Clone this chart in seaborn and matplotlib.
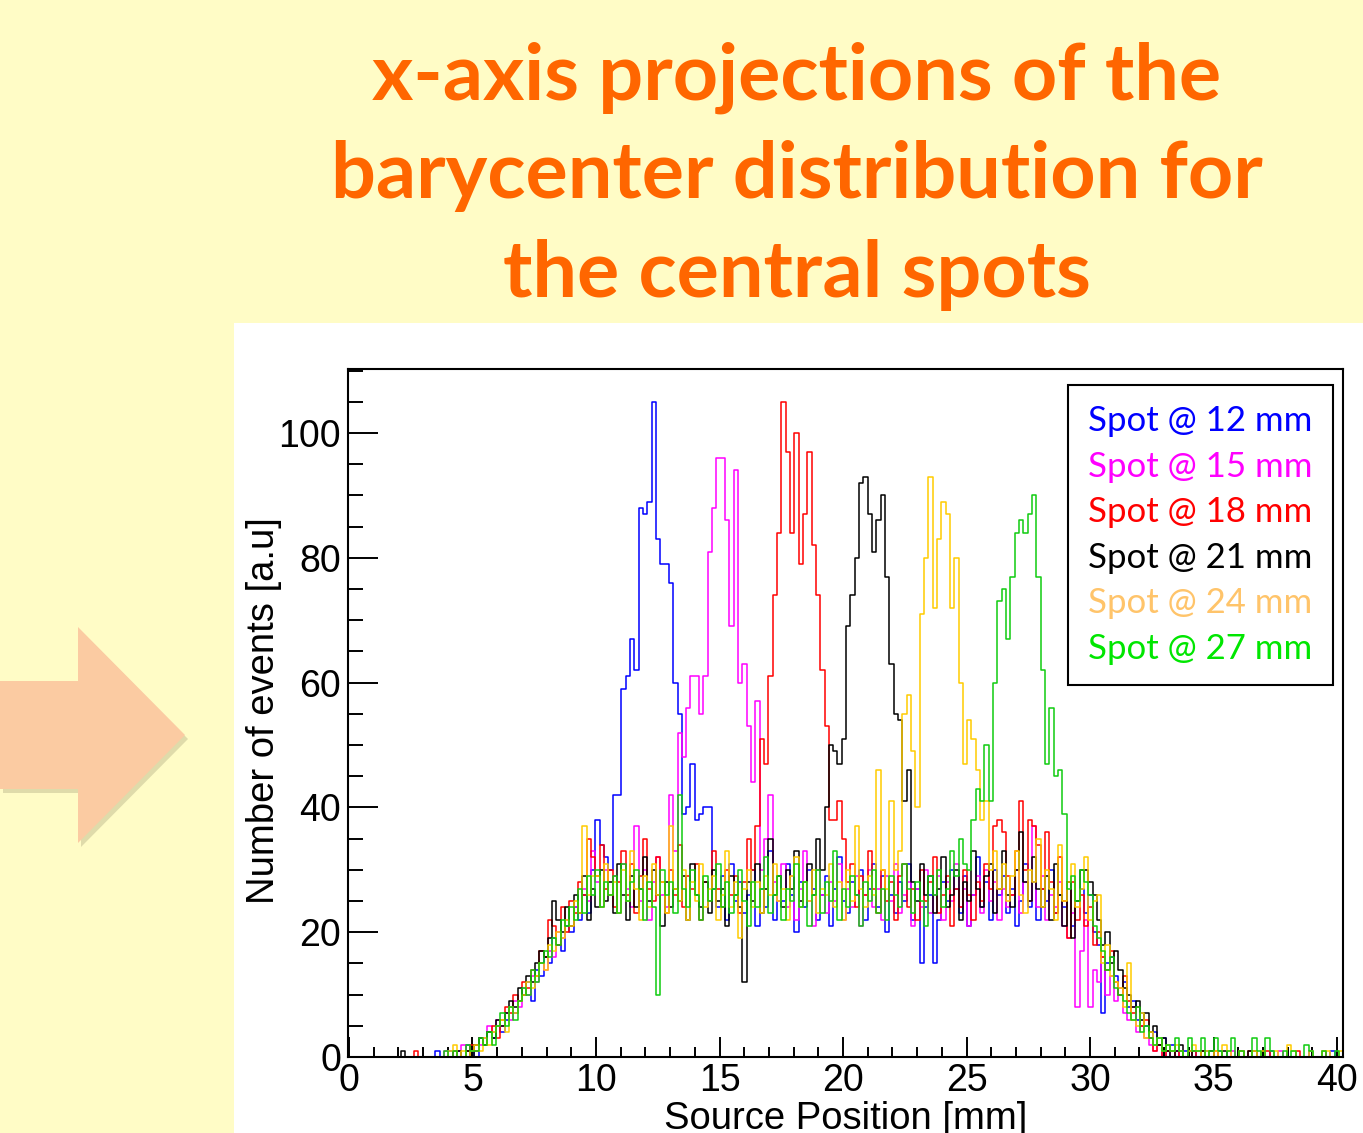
import numpy as np
import pandas as pd
import matplotlib.pyplot as plt
import seaborn as sns
from matplotlib.patches import Polygon, Rectangle
from matplotlib.lines import Line2D
from matplotlib.ticker import MultipleLocator

# Estilo base
sns.set_style('white')
plt.rcParams['font.family'] = ['Liberation Sans', 'DejaVu Sans']
plt.rcParams['text.color'] = 'black'
plt.rcParams['axes.labelcolor'] = 'black'
plt.rcParams['xtick.color'] = 'black'
plt.rcParams['ytick.color'] = 'black'

# Histogram binning (mm)
bin_width = 0.175
n_bins = 230

spot_labels = ['Spot @ 12 mm', 'Spot @ 15 mm', 'Spot @ 18 mm',
               'Spot @ 21 mm', 'Spot @ 24 mm', 'Spot @ 27 mm']
line_colors = ['#0000FF', '#FF00FF', '#FF0000', '#000000', '#FFCC00', '#10CC10']
text_colors = ['#0000FF', '#FF00FF', '#FF0000', '#000000', '#FFC46A', '#00E600']

# counts per bin
spot_12 = [
    0, 0, 0, 0, 0, 0, 0, 0, 0, 0,
    0, 0, 0, 0, 0, 0, 0, 0, 0, 0,
    1, 0, 0, 1, 0, 1, 0, 2, 1, 0,
    3, 2, 4, 3, 5, 4, 6, 8, 7, 9,
    10, 12, 9, 14, 13, 16, 15, 19, 18, 17,
    21, 20, 24, 22, 26, 23, 30, 38, 34, 32,
    30, 42, 42, 59, 61, 67, 62, 88, 87, 89,
    105, 83, 79, 79, 76, 60, 55, 39, 40, 47,
    38, 39, 40, 40, 27, 24, 29, 22, 31, 25,
    28, 23, 26, 30, 21, 27, 24, 33, 22, 29,
    25, 31, 26, 20, 28, 24, 30, 27, 22, 26,
    29, 21, 27, 32, 25, 23, 28, 26, 30, 22,
    27, 31, 24, 29, 20, 26, 23, 28, 25, 31,
    22, 27, 15, 24, 26, 15, 22, 28, 25, 30,
    27, 23, 29, 21, 26, 32, 24, 28, 22, 30,
    26, 29, 23, 27, 21, 25, 31, 24, 28, 22,
    27, 25, 30, 23, 26, 24, 28, 21, 25, 27,
    23, 26, 20, 18, 7, 15, 16, 13, 10, 12,
    8, 9, 6, 7, 5, 3, 4, 2, 3, 1,
    2, 1, 0, 1, 0, 1, 0, 0, 1, 0,
    0, 1, 0, 0, 0, 0, 1, 0, 0, 0,
    0, 0, 0, 1, 0, 0, 0, 0, 0, 0,
    0, 0, 1, 0, 0, 0, 0, 1, 0, 0,
]
spot_15 = [
    0, 0, 0, 0, 0, 0, 0, 0, 0, 0,
    0, 0, 0, 0, 0, 0, 0, 0, 0, 0,
    0, 0, 1, 0, 0, 1, 2, 0, 1, 2,
    2, 3, 5, 4, 6, 5, 7, 6, 9, 8,
    11, 10, 13, 12, 15, 14, 17, 16, 20, 19,
    22, 21, 24, 23, 27, 25, 33, 28, 24, 30,
    26, 29, 23, 31, 27, 24, 37, 25, 30, 22,
    28, 32, 26, 24, 42, 33, 52, 48, 56, 61,
    61, 55, 61, 81, 88, 96, 96, 86, 69, 94,
    60, 63, 53, 44, 57, 30, 35, 42, 28, 25,
    31, 24, 29, 22, 27, 33, 25, 21, 30, 26,
    23, 28, 25, 31, 22, 27, 24, 29, 21, 26,
    30, 24, 27, 22, 29, 25, 31, 23, 26, 28,
    21, 27, 24, 30, 23, 26, 29, 22, 28, 25,
    31, 24, 27, 21, 26, 29, 23, 30, 25, 28,
    22, 27, 24, 26, 30, 23, 28, 25, 37, 24,
    29, 22, 26, 24, 28, 21, 19, 23, 8, 17,
    22, 8, 14, 12, 16, 10, 13, 9, 11, 7,
    6, 8, 4, 5, 3, 2, 1, 2, 0, 1,
    0, 1, 0, 0, 1, 0, 0, 0, 0, 1,
    0, 0, 0, 0, 1, 0, 0, 0, 0, 0,
    0, 0, 0, 0, 0, 1, 0, 0, 0, 0,
    0, 0, 0, 0, 0, 0, 0, 0, 0, 0,
]
spot_18 = [
    0, 0, 0, 0, 0, 0, 0, 0, 0, 0,
    0, 0, 0, 0, 0, 1, 0, 0, 0, 0,
    0, 0, 0, 0, 1, 0, 0, 1, 2, 1,
    3, 2, 4, 5, 3, 6, 8, 7, 10, 9,
    12, 11, 14, 13, 17, 16, 22, 21, 18, 24,
    20, 25, 23, 28, 26, 35, 32, 29, 34, 27,
    30, 24, 28, 33, 26, 31, 23, 29, 35, 27,
    25, 32, 28, 23, 30, 26, 34, 24, 29, 27,
    31, 22, 28, 25, 33, 27, 24, 30, 26, 29,
    23, 28, 35, 30, 37, 51, 47, 61, 74, 84,
    105, 97, 84, 100, 79, 87, 97, 82, 74, 62,
    53, 38, 38, 41, 35, 28, 31, 24, 29, 26,
    33, 27, 23, 30, 25, 28, 22, 29, 31, 24,
    27, 22, 30, 25, 28, 32, 23, 26, 29, 21,
    27, 24, 30, 26, 22, 28, 25, 31, 27, 37,
    38, 36, 29, 26, 33, 41, 30, 38, 37, 34,
    27, 36, 28, 23, 32, 25, 19, 28, 22, 26,
    21, 24, 18, 20, 16, 14, 17, 12, 10, 13,
    9, 7, 8, 5, 6, 3, 1, 2, 0, 1,
    1, 0, 1, 0, 0, 1, 0, 1, 0, 0,
    1, 0, 0, 0, 0, 0, 1, 0, 1, 0,
    0, 0, 1, 0, 0, 0, 0, 0, 0, 1,
    0, 0, 0, 0, 0, 1, 0, 0, 0, 0,
]
spot_21 = [
    0, 0, 0, 0, 0, 0, 0, 0, 0, 0,
    0, 0, 1, 0, 0, 0, 0, 0, 0, 0,
    0, 0, 0, 0, 0, 1, 0, 1, 0, 2,
    3, 2, 4, 3, 6, 5, 7, 9, 8, 11,
    10, 13, 12, 15, 17, 16, 19, 25, 22, 20,
    24, 21, 26, 23, 29, 22, 27, 24, 30, 25,
    28, 23, 31, 26, 22, 29, 24, 27, 32, 25,
    30, 26, 21, 28, 24, 27, 25, 29, 22, 31,
    26, 24, 28, 23, 30, 25, 27, 21, 29, 26,
    24, 12, 28, 25, 31, 23, 27, 35, 26, 29,
    24, 30, 27, 33, 25, 28, 31, 26, 35, 30,
    40, 50, 49, 47, 51, 69, 74, 80, 92, 93,
    87, 81, 86, 90, 77, 63, 55, 54, 41, 46,
    28, 25, 31, 26, 29, 23, 27, 32, 24, 26,
    30, 22, 28, 25, 33, 27, 24, 29, 31, 23,
    27, 33, 26, 24, 30, 36, 28, 25, 32, 27,
    24, 29, 22, 31, 26, 21, 28, 19, 25, 30,
    30, 28, 26, 22, 18, 20, 15, 17, 14, 11,
    10, 8, 9, 6, 7, 4, 5, 2, 3, 1,
    0, 1, 2, 0, 1, 0, 0, 1, 0, 1,
    0, 0, 1, 0, 0, 0, 0, 0, 1, 1,
    0, 0, 0, 0, 0, 0, 0, 0, 0, 0,
    0, 0, 0, 0, 0, 0, 0, 0, 0, 0,
]
spot_24 = [
    0, 0, 0, 0, 0, 0, 0, 0, 0, 0,
    0, 0, 0, 0, 0, 0, 0, 0, 0, 0,
    0, 0, 0, 1, 2, 0, 1, 0, 1, 2,
    1, 3, 2, 4, 5, 6, 4, 8, 7, 9,
    10, 12, 11, 13, 15, 14, 18, 17, 20, 19,
    22, 21, 25, 23, 37, 26, 29, 29, 24, 31,
    26, 28, 23, 30, 25, 33, 27, 22, 29, 24,
    31, 26, 28, 23, 37, 27, 25, 30, 22, 28,
    25, 31, 24, 27, 29, 22, 26, 33, 24, 28,
    19, 27, 30, 24, 28, 23, 29, 26, 31, 25,
    27, 22, 29, 32, 24, 28, 25, 30, 23, 27,
    26, 31, 24, 28, 22, 30, 25, 37, 27, 24,
    29, 26, 46, 30, 27, 41, 30, 33, 55, 58,
    49, 40, 71, 80, 93, 72, 83, 89, 87, 72,
    80, 60, 47, 54, 51, 46, 38, 41, 30, 33,
    27, 31, 25, 29, 33, 26, 23, 30, 28, 35,
    24, 30, 27, 22, 34, 25, 28, 31, 24, 27,
    32, 22, 25, 26, 15, 18, 13, 12, 11, 8,
    15, 6, 5, 7, 3, 4, 2, 3, 1, 2,
    1, 2, 1, 0, 1, 2, 1, 0, 1, 0,
    1, 0, 2, 1, 0, 0, 1, 0, 0, 1,
    0, 1, 0, 0, 1, 0, 0, 2, 1, 0,
    0, 0, 1, 0, 0, 1, 1, 0, 0, 1,
]
spot_27 = [
    0, 0, 0, 0, 0, 0, 0, 0, 0, 0,
    0, 0, 0, 0, 0, 0, 0, 0, 0, 0,
    0, 0, 1, 0, 1, 0, 0, 2, 1, 1,
    3, 2, 4, 2, 5, 7, 5, 8, 6, 9,
    11, 10, 14, 12, 15, 17, 16, 19, 18, 22,
    21, 24, 22, 27, 23, 29, 26, 30, 24, 28,
    26, 29, 23, 31, 25, 28, 30, 27, 22, 28,
    24, 10, 30, 26, 28, 23, 42, 27, 24, 30,
    26, 22, 29, 25, 27, 31, 24, 28, 23, 26,
    30, 25, 21, 28, 24, 27, 32, 23, 26, 29,
    22, 27, 25, 31, 24, 28, 21, 26, 30, 23,
    28, 25, 33, 22, 27, 24, 29, 26, 21, 28,
    25, 30, 23, 27, 22, 29, 26, 24, 31, 27,
    23, 28, 25, 21, 29, 26, 30, 24, 27, 33,
    29, 35, 31, 30, 38, 43, 41, 50, 41, 60,
    73, 75, 67, 77, 84, 86, 84, 87, 90, 77,
    62, 47, 56, 45, 46, 39, 27, 29, 25, 30,
    28, 26, 21, 19, 17, 14, 16, 11, 10, 9,
    7, 6, 8, 4, 5, 3, 2, 3, 1, 2,
    1, 3, 1, 0, 3, 1, 1, 3, 0, 1,
    3, 1, 0, 1, 3, 0, 1, 0, 0, 3,
    1, 0, 3, 1, 0, 0, 1, 0, 1, 0,
    0, 2, 1, 0, 0, 1, 0, 0, 1, 0,
]
series = [spot_12, spot_15, spot_18, spot_21, spot_24, spot_27]

title_lines = ['x-axis projections of the', 'barycenter distribution for', 'the central spots']

# bin geometry
centers = np.arange(n_bins) * bin_width + bin_width / 2

frames = []
for label, counts in zip(spot_labels, series):
    assert len(counts) == n_bins, label
    frames.append(pd.DataFrame({'position': centers, 'events': counts, 'spot': label}))
df = pd.concat(frames, ignore_index=True)

W, H = 1363, 1133
fig = plt.figure(figsize=(W / 100, H / 100), dpi=100)
fig.patch.set_facecolor('#FFFCC6')


def fx(px):
    return px / W


def fy(py):
    return 1 - py / H


# slide decoration: arrow and white panel (behind the axes)
arrow_px = [(0, 681), (78, 681), (78, 627), (185, 735), (78, 843), (78, 789), (0, 789)]
shadow = Polygon([(fx(x + 3), fy(y + 4)) for x, y in arrow_px], closed=True,
                 transform=fig.transFigure, facecolor='#B8B48A', alpha=0.45,
                 edgecolor='none', zorder=-3)
arrow = Polygon([(fx(x), fy(y)) for x, y in arrow_px], closed=True,
                transform=fig.transFigure, facecolor='#FBCBA2', edgecolor='none', zorder=-2)
panel = Rectangle((fx(234), 0), 1 - fx(234), fy(323), transform=fig.transFigure,
                  facecolor='white', edgecolor='none', zorder=-2)
fig.patches.extend([shadow, arrow, panel])

# titulo
for line, base in zip(title_lines, [100, 198, 297]):
    fig.text(fx(797), fy(base), line, ha='center', va='baseline', color='#FF6600',
             fontsize=57, fontweight='bold', family=['Lato', 'DejaVu Sans'])

ax = fig.add_axes([fx(348), fy(1057), (1343 - 348) / W, (1057 - 369) / H])
ax.set_zorder(2)
ax.set_facecolor('white')

for label, color in zip(spot_labels, line_colors):
    sns.histplot(data=df[df['spot'] == label], x='position', weights='events',
                 binwidth=bin_width, binrange=(0, n_bins * bin_width),
                 element='step', fill=False, color=color, linewidth=1.1, ax=ax)

ax.set_xlim(-0.04, 40.24)
ax.set_ylim(0, 110.26)

ax.xaxis.set_major_locator(MultipleLocator(5))
ax.xaxis.set_minor_locator(MultipleLocator(1))
ax.yaxis.set_major_locator(MultipleLocator(20))
ax.yaxis.set_minor_locator(MultipleLocator(5))
ax.tick_params(axis='both', which='both', direction='in', width=1.4, colors='black',
               bottom=True, left=True, top=False, right=False, labelsize=27)
ax.tick_params(axis='x', which='major', length=14.4, pad=4)
ax.tick_params(axis='x', which='minor', length=7.2)
ax.tick_params(axis='y', which='major', length=21.6, pad=5)
ax.tick_params(axis='y', which='minor', length=10.8)
for side in ['left', 'right', 'top', 'bottom']:
    ax.spines[side].set_visible(True)
    ax.spines[side].set_color('black')
    ax.spines[side].set_linewidth(1.5)

# x title sits below the tick labels and runs off the slide bottom, as in the original
ax.set_xlabel('Source Position [mm]', fontsize=27.5, color='black')
ax.set_ylabel('Number of events [a.u]', fontsize=27.5, color='black')
ax.xaxis.set_label_coords(0.5, -0.064)
ax.yaxis.set_label_coords(-0.066, 0.504)

# legenda (texto colorido, sem linhas)
handles = [Line2D([], [], color=c, lw=0) for c in line_colors]
leg = ax.legend(handles, spot_labels, loc='upper right',
                bbox_to_anchor=((1333 - 348) / 995, (1057 - 385) / 688),
                handlelength=0, handletextpad=0, labelcolor=text_colors,
                prop={'family': ['Lato', 'DejaVu Sans'], 'size': 25},
                frameon=True, fancybox=False, edgecolor='black', framealpha=1,
                borderpad=0.58, labelspacing=0.39, borderaxespad=0)
leg.get_frame().set_linewidth(1.5)

plt.savefig('out.png', dpi=100, facecolor=fig.get_facecolor())
plt.close()
